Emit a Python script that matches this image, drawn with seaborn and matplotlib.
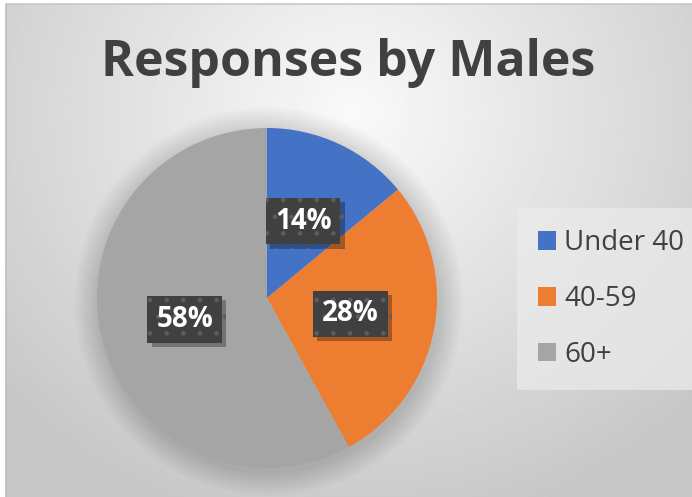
import matplotlib
matplotlib.use("Agg")
import matplotlib.pyplot as plt
import matplotlib.patheffects as pe
from matplotlib.patches import Patch, Circle
import seaborn as sns
import numpy as np

groups = ["Under 40", "40-59", "60+"]
shares = [14, 28, 58]
colors = ["#4472C4", "#ED7D31", "#A5A5A5"]
title = "Responses by Males"

sns.set_theme(style="white")
plt.rcParams['font.family'] = ['Open Sans', 'DejaVu Sans']
plt.rcParams['hatch.color'] = '#5c5c5c'
plt.rcParams['hatch.linewidth'] = 1.0

W, H = 692, 497
fig = plt.figure(figsize=(W / 100, H / 100), dpi=100)
fig.patch.set_facecolor("white")

# radial gradient background of the chart area
bg = fig.add_axes([6 / W, 0, 1 - 6 / W, 1 - 4 / H])
yy, xx = np.mgrid[0:H, 0:W]
r = np.sqrt(((xx - 350) / 520) ** 2 + ((yy - 110) / 470) ** 2)
shade = np.clip(0.98 - 0.22 * r, 0.78, 1.0)
bg.imshow(shade, cmap="gray", vmin=0, vmax=1, aspect="auto", extent=[0, 1, 0, 1])
bg.set_axis_off()
fig.add_artist(plt.Line2D([6 / W, 6 / W], [0, 1 - 4 / H], color="#bdbdbd", lw=1.2))
fig.add_artist(plt.Line2D([6 / W, 1], [1 - 4 / H, 1 - 4 / H], color="#c8c8c8", lw=1.2))

ax = fig.add_axes([(97 - 34) / W, (H - 468 - 34) / H, 408 / W, 408 / H])

# soft shadow around the pie
for k in range(12):
    ax.add_patch(Circle((0.01, -0.02), 1.0 + 0.012 * (12 - k), color="#000000",
                        alpha=0.012, lw=0, zorder=0))

wedges, texts, autotexts = ax.pie(
    shares, colors=colors, startangle=90, counterclock=False,
    autopct="%d%%", pctdistance=0.5, radius=1.0,
    wedgeprops=dict(linewidth=0),
    textprops=dict(color="white", fontsize=20, fontweight="bold"))
ax.set_aspect("equal")
ax.set_xlim(-1.2, 1.2)
ax.set_ylim(-1.2, 1.2)
for t in autotexts:
    t.set_bbox(dict(boxstyle="square,pad=0.32", facecolor="#404040",
                    edgecolor="#5c5c5c", linewidth=0, hatch="."))
    t.get_bbox_patch().set_path_effects(
        [pe.withSimplePatchShadow(offset=(3, -3), shadow_rgbFace="black", alpha=0.3)])

fig.text(348 / W, 1 - 63 / H, title, ha="center", va="center",
         fontsize=36, fontweight="bold", color="#404040")

handles = [Patch(facecolor=c, edgecolor="none") for c in colors]
leg = fig.legend(handles, groups, loc="center left",
                 bbox_to_anchor=(525 / W, 1 - 299 / H), fontsize=20,
                 frameon=True, handlelength=0.65, handleheight=0.65,
                 handletextpad=0.3, labelspacing=1.0, borderpad=0.45,
                 borderaxespad=0)
leg.get_frame().set_facecolor("#ececec")
leg.get_frame().set_alpha(0.7)
leg.get_frame().set_edgecolor("none")
leg.get_frame().set_boxstyle("square")
for t in leg.get_texts():
    t.set_color("#404040")

fig.savefig("out.png", dpi=100)
